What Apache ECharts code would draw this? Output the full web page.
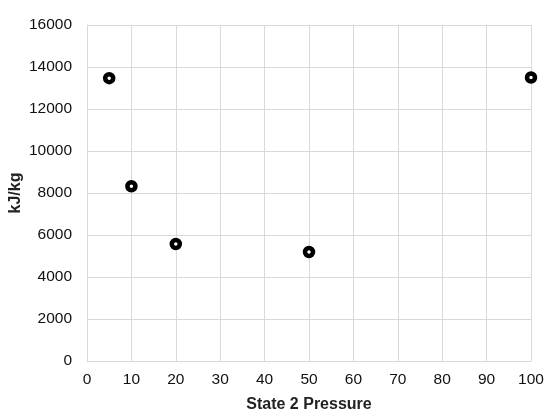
<!DOCTYPE html>
<html><head><meta charset="utf-8">
<script src="https://cdn.jsdelivr.net/npm/echarts@6/dist/echarts.min.js"></script>
<style>html,body{margin:0;padding:0;background:#fff}#c{width:550px;height:419px}</style>
</head><body><div id="c"></div>
<script>
const xValues = [5, 10, 20, 50, 100];
const yValues = [13470, 8320, 5570, 5190, 13500];
const xTitle = 'State 2 Pressure';
const yTitle = 'kJ/kg';

const chart = echarts.init(document.getElementById('c'), null, {renderer: 'canvas'});
const font = 'Liberation Sans, Arial, sans-serif';
chart.setOption({
  animation: false,
  grid: {left: 87, right: 19, top: 25, bottom: 58, containLabel: false, outerBoundsMode: 'none'},
  xAxis: {
    type: 'value', min: 0, max: 100, interval: 10,
    name: xTitle, nameLocation: 'middle', nameGap: 36, nameMoveOverlap: false,
    nameTextStyle: {fontFamily: font, fontSize: 16, fontWeight: 'bold', color: '#222'},
    axisLine: {show: true, lineStyle: {color: '#d9d9d9', width: 1}},
    axisTick: {show: false},
    axisLabel: {fontFamily: font, fontSize: 15.5, color: '#111', margin: 11, formatter: v => String(v)},
    splitLine: {show: true, lineStyle: {color: '#d9d9d9', width: 1}}
  },
  yAxis: {
    type: 'value', min: 0, max: 16000, interval: 2000,
    name: yTitle, nameLocation: 'middle', nameGap: 63, nameRotate: 90, nameMoveOverlap: false,
    nameTextStyle: {fontFamily: font, fontSize: 16, fontWeight: 'bold', color: '#222'},
    axisLine: {show: true, lineStyle: {color: '#d9d9d9', width: 1}},
    axisTick: {show: false},
    axisLabel: {fontFamily: font, fontSize: 15.5, color: '#111', margin: 15, formatter: v => String(v)},
    splitLine: {show: true, lineStyle: {color: '#d9d9d9', width: 1}}
  },
  series: [{
    type: 'scatter',
    data: xValues.map((x, i) => [x, yValues[i]]),
    symbol: 'circle', symbolSize: 8,
    itemStyle: {color: '#fff', borderColor: '#000', borderWidth: 4.5, opacity: 1}
  }]
});
</script></body></html>
